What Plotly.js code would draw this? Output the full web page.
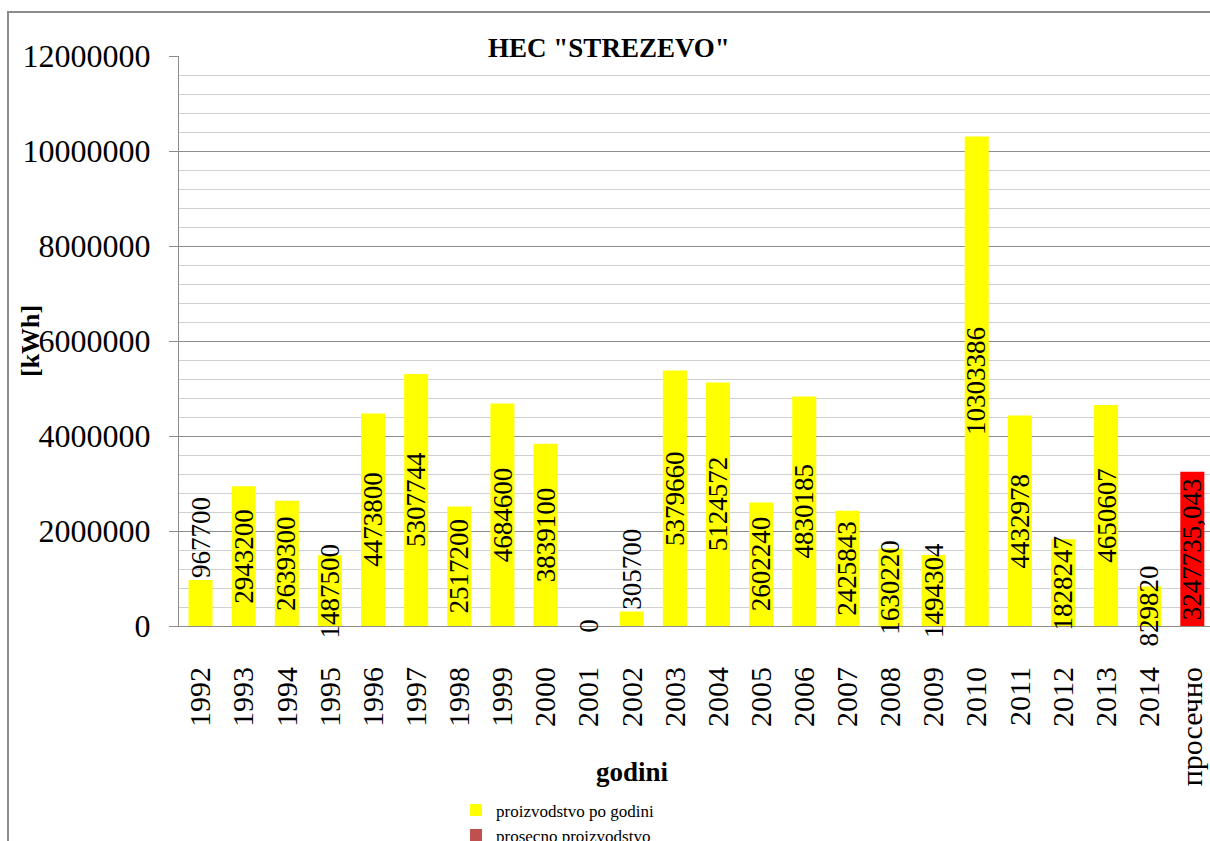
<!DOCTYPE html>
<html>
<head>
<meta charset="utf-8">
<script src="https://cdn.plot.ly/plotly-3.0.1.min.js"></script>
<style>
  html, body { margin: 0; padding: 0; background: #fff; overflow: hidden; }
  #chart { position: absolute; left: 0; top: 0; width: 1210px; height: 841px; }
  #frame { position: absolute; left: 7px; top: 11px; width: 1300px; height: 900px;
           border-left: 2px solid #8c8c8c; border-top: 2px solid #8c8c8c; pointer-events: none; }
</style>
</head>
<body>
<div id="chart"></div>
<div id="frame"></div>
<script>
// ---- data ----
const years = ['1992','1993','1994','1995','1996','1997','1998','1999','2000','2001','2002',
               '2003','2004','2005','2006','2007','2008','2009','2010','2011','2012','2013','2014'];
const production = [967700, 2943200, 2639300, 1487500, 4473800, 5307744, 2517200, 4684600,
                    3839100, 0, 305700, 5379660, 5124572, 2602240, 4830185, 2425843, 1630220,
                    1494304, 10303386, 4432978, 1828247, 4650607, 829820];
const avgCategory = 'просечно';
const avgValue = 3247735.043;
const seriesNames = ['proizvodstvo po godini', 'prosecno proizvodstvo'];
const chartTitle = 'HEC "STREZEVO"';
const xTitle = 'godini';
const yTitle = '[kWh]';

// ---- styling ----
const SERIF = 'Liberation Serif';
const categories = years.concat([avgCategory]);
const labelsAboveBar = ['1992', '2002'];   // labels that sit just above their bar in the reference

const annotations = [];
years.forEach((yr, i) => {
  const v = production[i];
  const above = labelsAboveBar.indexOf(yr) >= 0;
  annotations.push({
    x: i, y: above ? v : v / 2, xref: 'x', yref: 'y',
    text: String(v), textangle: -90, showarrow: false,
    yanchor: above ? 'bottom' : 'middle', xanchor: 'center',
    font: { family: SERIF, size: 27, color: '#000' }
  });
});
annotations.push({
  x: categories.length - 1, y: avgValue / 2, xref: 'x', yref: 'y',
  text: avgValue.toFixed(3).replace('.', ','), textangle: -90, showarrow: false,
  yanchor: 'middle', xanchor: 'center',
  font: { family: SERIF, size: 27, color: '#000' }
});
annotations.push({
  text: '<b>' + yTitle + '</b>', xref: 'paper', yref: 'paper', x: -0.1445, y: 0.5,
  xanchor: 'center', yanchor: 'middle', textangle: -90, showarrow: false,
  font: { family: SERIF, size: 26, color: '#000' }
});
annotations.push({
  text: '<b>' + xTitle + '</b>', xref: 'paper', yref: 'paper', x: 0.4394, y: -0.256,
  xanchor: 'center', yanchor: 'middle', showarrow: false,
  font: { family: SERIF, size: 27, color: '#000' }
});

const traces = [
  { type: 'bar', x: years, y: production, name: seriesNames[0],
    marker: { color: '#FFFF00' }, hoverinfo: 'x+y' },
  { type: 'bar', x: [avgCategory], y: [avgValue], name: seriesNames[1],
    marker: { color: '#FF0000' }, showlegend: false, hoverinfo: 'x+y' },
  { type: 'bar', x: [avgCategory], y: [null], name: seriesNames[1],
    marker: { color: '#C0504D' }, showlegend: true, hoverinfo: 'skip' }
];

const layout = {
  width: 1210, height: 841,
  margin: { l: 179, r: 0, t: 56, b: 215, pad: 0, autoexpand: false },
  font: { family: SERIF, color: '#000' },
  paper_bgcolor: '#fff', plot_bgcolor: '#fff',
  barmode: 'overlay', bargap: 0.443,
  title: { text: '<b>' + chartTitle + '</b>', x: 0.5033, xanchor: 'center',
           y: 0.944, yanchor: 'middle', font: { family: SERIF, size: 27, color: '#000' } },
  xaxis: {
    type: 'category', categoryorder: 'array', categoryarray: categories,
    range: [-0.5, 23.41], tickangle: -90, ticks: '', showgrid: false,
    showline: true, linecolor: '#8c8c8c', linewidth: 1, zeroline: false,
    ticklabelstandoff: 28, automargin: false,
    tickfont: { family: SERIF, size: 30, color: '#000' }
  },
  yaxis: {
    range: [0, 12000000], dtick: 2000000, tick0: 0, tickformat: 'd',
    showline: true, linecolor: '#8c8c8c', linewidth: 1,
    ticks: 'outside', ticklen: 9, tickcolor: '#8c8c8c', tickwidth: 1,
    ticklabelstandoff: 12, automargin: false,
    gridcolor: '#8c8c8c', gridwidth: 1,
    zeroline: true, zerolinecolor: '#8c8c8c', zerolinewidth: 1,
    minor: { dtick: 400000, showgrid: true, gridcolor: '#d0d0d0', gridwidth: 1, ticks: '' },
    tickfont: { family: SERIF, size: 32, color: '#000' }
  },
  showlegend: true,
  legend: {
    orientation: 'v', x: 0.2687, xanchor: 'left', y: -0.292, yanchor: 'top',
    bgcolor: 'rgba(0,0,0,0)', borderwidth: 0, tracegroupgap: 0,
    font: { family: SERIF, size: 17, color: '#000' }
  },
  annotations: annotations
};

Plotly.newPlot('chart', traces, layout, { displayModeBar: false, staticPlot: true });
</script>
</body>
</html>
